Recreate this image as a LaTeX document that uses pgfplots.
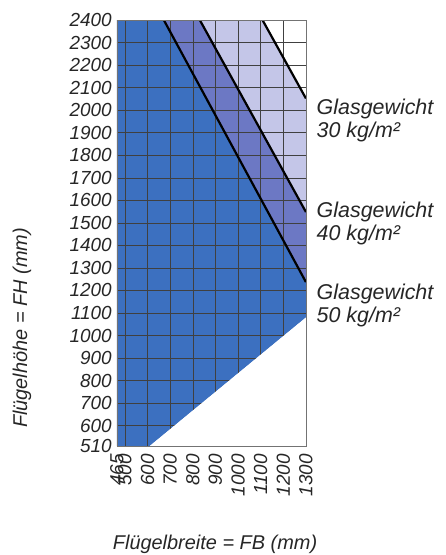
\documentclass[border=0pt]{standalone}
\usepackage{pgfplots}
\pgfplotsset{compat=1.18}
\usepackage{fontspec}
\setmainfont{Liberation Sans}
\definecolor{dblue}{RGB}{60,112,192}
\definecolor{mblue}{RGB}{108,120,196}
\definecolor{lblue}{RGB}{196,198,232}
\pgfplotsset{
 layers/mylayers/.define layer set={axis background,axis grid,main,axis ticks,axis lines,axis tick labels,axis descriptions,axis foreground}{/pgfplots/layers/standard},
}
\begin{document}
\begin{tikzpicture}
\begin{axis}[
 set layers=mylayers,
 scale only axis, width=189bp, height=426bp,
 xmin=465,xmax=1300,ymin=510,ymax=2400,
 xtick={465,500,600,700,800,900,1000,1100,1200,1300},
 xticklabels={465,500,600,700,800,900,1000,1100,1200,1300},
 ytick={510,600,700,800,900,1000,1100,1200,1300,1400,1500,1600,1700,1800,1900,2000,2100,2200,2300,2400},
 yticklabels={510,600,700,800,900,1000,1100,1200,1300,1400,1500,1600,1700,1800,1900,2000,2100,2200,2300,2400},
 scaled ticks=false,
 grid=major, major grid style={black!75,line width=0.5bp},
 major tick length=0pt,
 axis line style={black!55, line width=0.8bp},
 tick label style={font=\fontsize{19}{19}\selectfont\itshape, text=black!85},
 xticklabel style={rotate=90, anchor=east, inner sep=0pt},
 xticklabel shift=8bp,
 yticklabel style={inner xsep=5bp},
 clip mode=individual,
]
\addplot[fill=dblue, draw=none, on layer=axis background] coordinates {(465,510)(610,510)(1300,1080)(1300,1237)(672,2400)(465,2400)} -- cycle;
\addplot[fill=mblue, draw=none, on layer=axis background] coordinates {(672,2400)(1300,1237)(1300,1548)(831,2400)} -- cycle;
\addplot[fill=lblue, draw=none, on layer=axis background] coordinates {(831,2400)(1300,1548)(1300,2052)(1108,2400)} -- cycle;
\addplot[fill=white, draw=none] coordinates {(610,510)(1300,1080)(1300,510)} -- cycle;
\addplot[black, line width=2.2bp] coordinates {(672,2400)(1300,1237)};
\addplot[black, line width=2.2bp] coordinates {(831,2400)(1300,1548)};
\addplot[black, line width=2.2bp] coordinates {(1108,2400)(1300,2052)};
\node[anchor=west, align=left, inner sep=0pt, font=\fontsize{21.5}{23}\selectfont\itshape, text=black!85] at (rel axis cs:1.056,0.765) {Glasgewicht\\30 kg/m²};
\node[anchor=west, align=left, inner sep=0pt, font=\fontsize{21.5}{23}\selectfont\itshape, text=black!85] at (rel axis cs:1.056,0.523) {Glasgewicht\\40 kg/m²};
\node[anchor=west, align=left, inner sep=0pt, font=\fontsize{21.5}{23}\selectfont\itshape, text=black!85] at (rel axis cs:1.056,0.329) {Glasgewicht\\50 kg/m²};
\node[rotate=90, inner sep=0pt, font=\fontsize{20}{23}\selectfont\itshape, text=black!85] at (rel axis cs:-0.503,0.277) {Flügelhöhe = FH (mm)};
\node[inner sep=0pt, font=\fontsize{20}{23}\selectfont\itshape, text=black!85] at (rel axis cs:0.519,-0.232) {Flügelbreite = FB (mm)};
\coordinate (bl) at (rel axis cs:-0.619,-0.256);
\coordinate (tr) at (rel axis cs:1.741,1.047);
\end{axis}
\pgfresetboundingbox
\path[use as bounding box] (bl) rectangle (tr);
\end{tikzpicture}
\end{document}
